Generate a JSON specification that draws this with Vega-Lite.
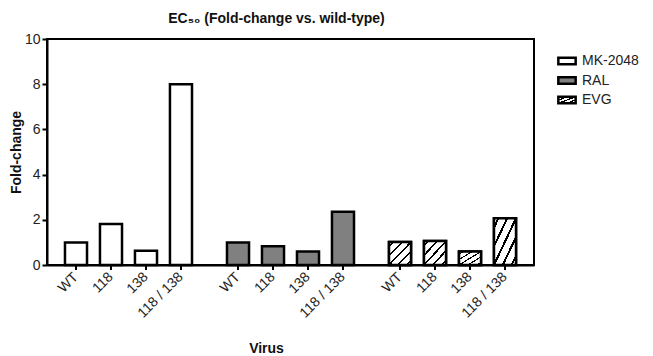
{
  "$schema": "https://vega.github.io/schema/vega-lite/v6.json",
  "width": 487,
  "height": 226,
  "autosize": "none",
  "padding": {"left": 47, "top": 39, "right": 119, "bottom": 91},
  "background": "white",
  "title": {"text": "EC₅₀ (Fold-change vs. wild-type)", "fontSize": 14, "fontWeight": "bold", "font": "Liberation Sans", "color": "#111", "dx": -14, "offset": 6, "anchor": "middle"},
  "config": {"view": {"stroke": "black", "strokeWidth": 2}, "font": "Liberation Sans"},
  "data": {"values": [
    {"drug": "MK-2048", "virus": "WT", "fold": 1.0},
    {"drug": "MK-2048", "virus": "118", "fold": 1.81},
    {"drug": "MK-2048", "virus": "138", "fold": 0.63},
    {"drug": "MK-2048", "virus": "118 / 138", "fold": 8.0},
    {"drug": "RAL", "virus": "WT", "fold": 1.0},
    {"drug": "RAL", "virus": "118", "fold": 0.83},
    {"drug": "RAL", "virus": "138", "fold": 0.6},
    {"drug": "RAL", "virus": "118 / 138", "fold": 2.36},
    {"drug": "EVG", "virus": "WT", "fold": 1.02},
    {"drug": "EVG", "virus": "118", "fold": 1.06},
    {"drug": "EVG", "virus": "138", "fold": 0.6},
    {"drug": "EVG", "virus": "118 / 138", "fold": 2.07}
  ]},
  "layer": [
    {
      "mark": {"type": "bar", "stroke": "black", "strokeWidth": 2.5},
      "encoding": {
        "x": {"field": "drug", "type": "nominal", "sort": ["MK-2048", "RAL", "EVG"], "scale": {"paddingInner": 0.136, "paddingOuter": 0.071},
          "axis": {"title": "Virus", "labels": false, "ticks": false, "domainColor": "black", "domainWidth": 2, "titleFontSize": 14, "titleFontWeight": "bold", "titleColor": "#111", "titleX": 219, "titleY": 83, "titleAlign": "center", "titleBaseline": "middle"}},
        "xOffset": {"field": "virus", "type": "nominal", "sort": ["WT", "118", "138", "118 / 138"], "scale": {"paddingInner": 0.37, "paddingOuter": 0.185}},
        "y": {"field": "fold", "type": "quantitative", "scale": {"domain": [0, 10]},
          "axis": {"title": "Fold-change", "values": [0, 2, 4, 6, 8, 10], "grid": false, "domainColor": "black", "domainWidth": 2, "tickColor": "black", "tickWidth": 2, "tickSize": 5, "labelFontSize": 14, "labelColor": "#222", "labelPadding": 2, "titleFontSize": 14, "titleFontWeight": "bold", "titleColor": "#111", "titleX": -31, "titleY": 113, "titleAngle": 270, "titleAlign": "center", "titleBaseline": "middle"}},
        "fill": {"field": "drug", "type": "nominal",
          "scale": {"domain": ["MK-2048", "RAL", "EVG"], "range": ["white", "#808080", {"expr": "{gradient: 'linear', x1: 0, y1: 0, x2: 1, y2: 1, stops: [{offset: 0, color: 'white'}, {offset: 0.21, color: 'white'}, {offset: 0.21, color: 'black'}, {offset: 0.31, color: 'black'}, {offset: 0.31, color: 'white'}, {offset: 0.45, color: 'white'}, {offset: 0.45, color: 'black'}, {offset: 0.55, color: 'black'}, {offset: 0.55, color: 'white'}, {offset: 0.69, color: 'white'}, {offset: 0.69, color: 'black'}, {offset: 0.79, color: 'black'}, {offset: 0.79, color: 'white'}, {offset: 1, color: 'white'}]}"}]},
          "legend": {"title": null, "orient": "none", "legendX": 510, "legendY": 12, "symbolType": "M-1,-0.38H1V0.38H-1Z", "symbolSize": 300, "symbolStrokeColor": "black", "symbolStrokeWidth": 2.5, "symbolOpacity": 1, "labelFontSize": 14, "labelColor": "#222", "labelOffset": 5, "rowPadding": 0.5,
            "encode": {"symbols": {"update": {
              "stroke": {"value": "black"},
              "strokeWidth": {"value": 2.5},
              "opacity": {"value": 1}
            }}}}}
      }
    },
    {
      "transform": [{"filter": "datum.drug === 'EVG'"}],
      "mark": {"type": "bar", "stroke": "black", "strokeWidth": 2.5, "fill": {"gradient": "linear", "x1": 0, "y1": 0, "x2": 1, "y2": 1, "stops": [
            {"offset": 0, "color": "white"}, {"offset": 0.075, "color": "white"}, {"offset": 0.075, "color": "black"}, {"offset": 0.125, "color": "black"}, {"offset": 0.125, "color": "white"},
            {"offset": 0.275, "color": "white"}, {"offset": 0.275, "color": "black"}, {"offset": 0.325, "color": "black"}, {"offset": 0.325, "color": "white"},
            {"offset": 0.475, "color": "white"}, {"offset": 0.475, "color": "black"}, {"offset": 0.525, "color": "black"}, {"offset": 0.525, "color": "white"},
            {"offset": 0.675, "color": "white"}, {"offset": 0.675, "color": "black"}, {"offset": 0.725, "color": "black"}, {"offset": 0.725, "color": "white"},
            {"offset": 0.875, "color": "white"}, {"offset": 0.875, "color": "black"}, {"offset": 0.925, "color": "black"}, {"offset": 0.925, "color": "white"},
            {"offset": 1, "color": "white"}]}},
      "encoding": {
        "x": {"field": "drug", "type": "nominal", "sort": ["MK-2048", "RAL", "EVG"]},
        "xOffset": {"field": "virus", "type": "nominal", "sort": ["WT", "118", "138", "118 / 138"]},
        "y": {"field": "fold", "type": "quantitative"}
      }
    },
    {
      "mark": {"type": "tick", "orient": "vertical", "size": 5, "thickness": 2, "color": "black", "opacity": 1, "yOffset": 2.5, "clip": false},
      "encoding": {
        "x": {"field": "drug", "type": "nominal", "sort": ["MK-2048", "RAL", "EVG"]},
        "xOffset": {"field": "virus", "type": "nominal", "sort": ["WT", "118", "138", "118 / 138"]},
        "y": {"datum": 0}
      }
    },
    {
      "mark": {"type": "text", "angle": 315, "align": "right", "baseline": "middle", "fontSize": 14, "color": "#222", "yOffset": 10, "xOffset": 3, "clip": false},
      "encoding": {
        "x": {"field": "drug", "type": "nominal", "sort": ["MK-2048", "RAL", "EVG"]},
        "xOffset": {"field": "virus", "type": "nominal", "sort": ["WT", "118", "138", "118 / 138"]},
        "y": {"datum": 0},
        "text": {"field": "virus"}
      }
    }
  ]
}
